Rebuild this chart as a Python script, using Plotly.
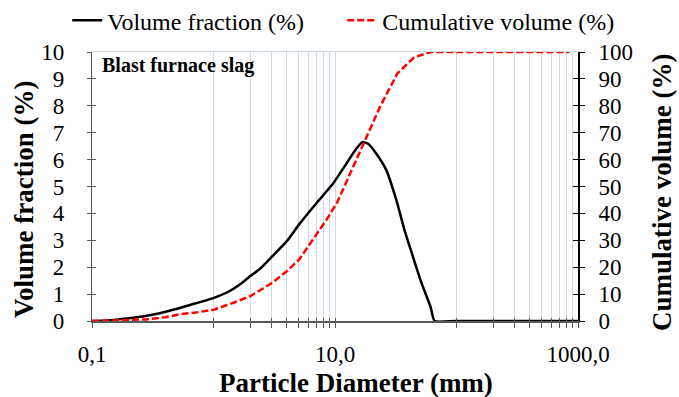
import plotly.graph_objects as go

# Volume fraction (%) vs particle diameter (mm)
diam_vf = [0.1, 0.12, 0.15, 0.18, 0.22, 0.3, 0.41, 0.6, 0.8, 1.02, 1.29, 1.66, 2.02, 2.43,
           3.07, 4.03, 5.12, 7.03, 9.64, 12.4, 15.0, 16.8, 18.7, 21.9, 26.5, 32.0, 37.5, 42.0,
           50.7, 61.4, 66.0, 100.0, 1000.0]
vol_frac = [0, 0.01, 0.04, 0.08, 0.12, 0.21, 0.35, 0.56, 0.72, 0.87, 1.06, 1.37, 1.68, 1.95,
            2.42, 2.98, 3.62, 4.38, 5.11, 5.85, 6.41, 6.65, 6.59, 6.22, 5.6, 4.49, 3.35, 2.65,
            1.5, 0.5, 0, 0, 0]

# Cumulative volume (%)
diam_cum = [0.1, 0.2, 0.28, 0.4, 0.53, 0.75, 1.02, 1.46, 2.02, 3.07, 4.03, 5.1, 6.68, 8.62,
            10.4, 13.4, 17.3, 23.7, 32.6, 44.7, 61.4, 850.0]
cum_vol = [0, 0.3, 0.6, 1.4, 2.5, 3.3, 4.3, 6.8, 9.3, 14.3, 18.6, 23.0, 30.5, 38.0,
           44.0, 55.0, 66.5, 80.0, 92.0, 98.0, 100.0, 100.0]

x_major = [0.1, 10, 1000]
x_major_text = ["0,1", "10,0", "1000,0"]
x_minor = [1, 2, 3, 4, 5, 6, 7, 8, 9, 100, 200, 300, 400, 500, 600, 700, 800, 900]
y_left_ticks = list(range(0, 11))
y_right_ticks = list(range(0, 101, 10))

SERIF = "Liberation Serif"
GRID = "#cdd9e3"
AX = "#595959"

fig = go.Figure()
fig.add_trace(go.Scatter(x=diam_vf, y=vol_frac, mode="lines", name="Volume fraction (%)",
                         line=dict(color="black", width=2.5, shape="spline", smoothing=0.5),
                         xaxis="x", yaxis="y"))
fig.add_trace(go.Scatter(x=diam_cum, y=cum_vol, mode="lines", name="Cumulative volume (%)",
                         line=dict(color="#ff0000", width=2.5, dash="7px,3px"),
                         xaxis="x", yaxis="y2"))
# empty helper traces so overlay axes (inside tick halves, top border) render
for xa, ya in [("x2", "y"), ("x3", "y"), ("x", "y3"), ("x", "y4")]:
    fig.add_trace(go.Scatter(x=[], y=[], xaxis=xa, yaxis=ya, showlegend=False,
                             hoverinfo="skip"))

tickfont = dict(family=SERIF, size=23, color="black")
all_x = x_major + x_minor

fig.update_layout(
    width=679, height=397,
    margin=dict(l=92, r=101, t=52, b=76, autoexpand=False),
    paper_bgcolor="white", plot_bgcolor="white",
    showlegend=True,
    legend=dict(orientation="h", x=-0.051, xanchor="left", y=1.2, yanchor="top",
                font=dict(family=SERIF, size=24, color="black"),
                entrywidth=230, entrywidthmode="pixels",
                bgcolor="rgba(0,0,0,0)", borderwidth=0),
    xaxis=dict(type="log", range=[-1, 3], tickvals=x_major, ticktext=x_major_text,
               tickfont=tickfont, ticks="outside", ticklen=5, tickcolor=AX,
               showline=True, linecolor=AX, linewidth=1.5,
               showgrid=True, gridcolor=GRID, gridwidth=1, zeroline=False,
               ticklabelstandoff=7,
               minor=dict(tickvals=x_minor, showgrid=True, gridcolor=GRID, gridwidth=1,
                          ticks="outside", ticklen=5, tickcolor=AX)),
    xaxis2=dict(type="log", range=[-1, 3], overlaying="x", anchor="y", side="bottom",
                tickvals=all_x, ticks="inside", ticklen=3, tickcolor=AX,
                showticklabels=False, showgrid=False, zeroline=False, showline=False),
    xaxis3=dict(type="log", range=[-1, 3], overlaying="x", anchor="y", side="top",
                showline=True, linecolor=GRID, linewidth=1, ticks="",
                showticklabels=False, showgrid=False, zeroline=False),
    yaxis=dict(range=[0, 10], tickvals=y_left_ticks, tickfont=tickfont,
               ticks="outside", ticklen=4, tickcolor=AX,
               showline=True, linecolor=AX, linewidth=1.2,
               showgrid=False, zeroline=False, ticklabelstandoff=18),
    yaxis3=dict(range=[0, 10], overlaying="y", anchor="x", side="left",
                tickvals=y_left_ticks, ticks="inside", ticklen=4, tickcolor=AX,
                showticklabels=False, showgrid=False, zeroline=False, showline=False),
    yaxis2=dict(range=[0, 100], tickvals=y_right_ticks, tickfont=tickfont,
                overlaying="y", side="right", anchor="x",
                ticks="outside", ticklen=5, tickcolor="black",
                showline=True, linecolor="black", linewidth=2,
                showgrid=False, zeroline=False, ticklabelstandoff=9),
    yaxis4=dict(range=[0, 100], overlaying="y", anchor="x", side="right",
                tickvals=y_right_ticks, ticks="inside", ticklen=5, tickcolor="black",
                showticklabels=False, showgrid=False, zeroline=False, showline=False),
)

bold = dict(family=SERIF, size=27, color="black")
fig.add_annotation(text="<b>Particle Diameter (mm)</b>", xref="paper", yref="paper",
                   x=(356 - 92) / 486, y=-(383 - 321) / 269, xanchor="center",
                   yanchor="middle", showarrow=False, font=bold)
fig.add_annotation(text="<b>Volume fraction (%)</b>", xref="paper", yref="paper",
                   x=(24 - 92) / 486, y=(321 - 200) / 269, xanchor="center",
                   yanchor="middle", textangle=-90, showarrow=False, font=bold)
fig.add_annotation(text="<b>Cumulative volume (%)</b>", xref="paper", yref="paper",
                   x=(662 - 92) / 486, y=(321 - 193) / 269, xanchor="center",
                   yanchor="middle", textangle=-90, showarrow=False, font=bold)
fig.add_annotation(text="<b>Blast furnace slag</b>", xref="paper", yref="paper",
                   x=(100 - 92) / 486, y=(321 - 65) / 269, xanchor="left",
                   yanchor="middle", showarrow=False,
                   font=dict(family=SERIF, size=20, color="black"))

fig.write_html("out.html")
